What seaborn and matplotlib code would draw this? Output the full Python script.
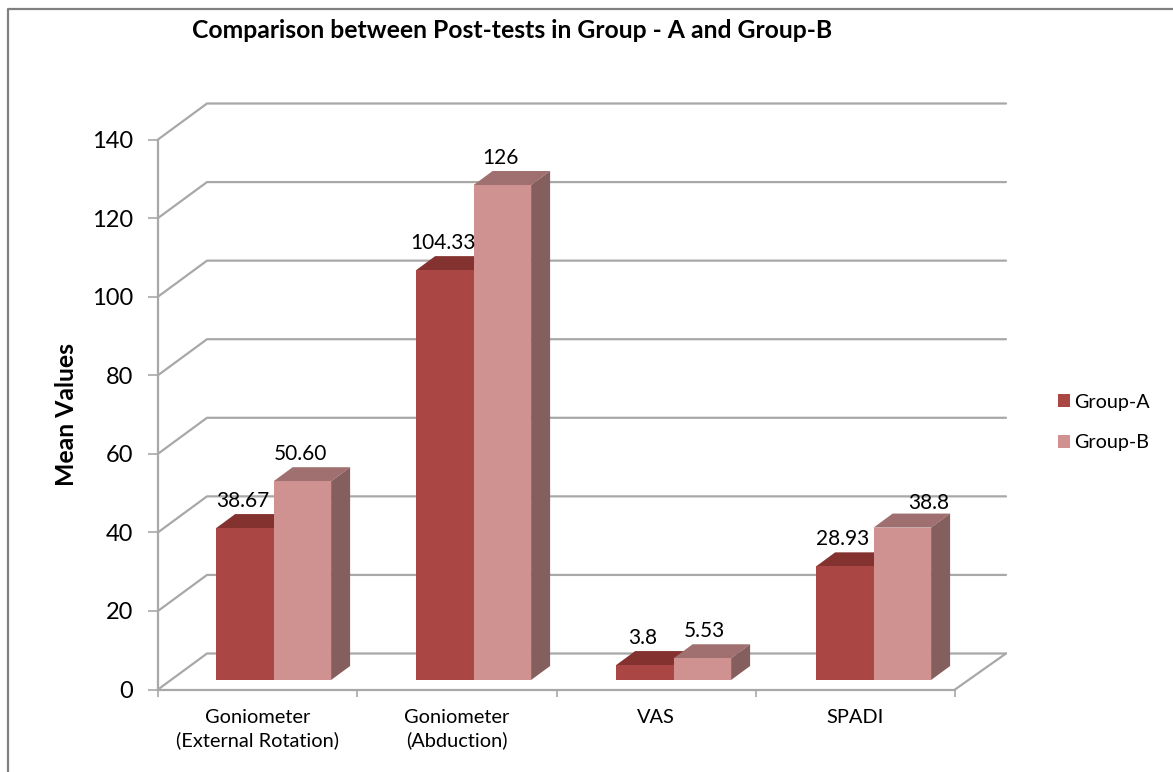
import numpy as np
import pandas as pd
import matplotlib
matplotlib.use("Agg")
import matplotlib.pyplot as plt
from matplotlib.lines import Line2D
from matplotlib.patches import Polygon
from matplotlib.transforms import Affine2D, IdentityTransform
import seaborn as sns

categories = ["Goniometer\n(External Rotation)", "Goniometer\n(Abduction)", "VAS", "SPADI"]
group_a = [38.67, 104.33, 3.8, 28.93]
group_b = [50.60, 126, 5.53, 38.8]
labels_a = ["38.67", "104.33", "3.8", "28.93"]
labels_b = ["50.60", "126", "5.53", "38.8"]
yticks = [0, 20, 40, 60, 80, 100, 120, 140]
title = "Comparison between Post-tests in Group - A and Group-B"

W, H = 1173, 772
sns.set_style("white")
plt.rcParams["font.family"] = ["Lato", "DejaVu Sans"]
plt.rcParams["text.color"] = "black"
plt.rcParams["xtick.labelcolor"] = "black"
plt.rcParams["ytick.labelcolor"] = "black"

fig = plt.figure(figsize=(W / 100, H / 100), dpi=100, facecolor="white")
L, R, T, B = 158, 955, 139.5, 689.5
ax = fig.add_axes([L / W, 1 - B / H, (R - L) / W, (B - T) / H])
ax.patch.set_alpha(0)

df = pd.DataFrame({
    "category": categories * 2,
    "value": group_a + group_b,
    "group": ["Group-A"] * 4 + ["Group-B"] * 4,
})
colors = {"Group-A": "#AA4643", "Group-B": "#D09290"}
tops = {"Group-A": "#843230", "Group-B": "#A06F6F"}
sides = {"Group-A": "#733030", "Group-B": "#855F5E"}
sns.barplot(data=df, x="category", y="value", hue="group", palette=colors,
            width=0.577, gap=0, saturation=1, errorbar=None, ax=ax, linewidth=0)
ax.set_xlim(-0.5, 3.5)
ax.set_ylim(0, 140)

# 3-D look: pixel offsets of the back wall and of the bar's front plane
GRID = "#A8A8A8"
WALL_DX, WALL_DY = 49, 36
BAR_DX, BAR_DY = 16, 9.5
BAR_DRIFT = 0.75  # extra px per category: the bar groups sit slightly wider than the ticks
DEPTH_DX, DEPTH_DY = 19, 14
px = IdentityTransform()

# label nudges in px, where the reference moved a label off its bar centre
nudge_b = {"5.53": (4, 0), "38.8": (28, -2)}

for v in yticks:
    x0, y0 = ax.transData.transform((-0.5, v))
    x1, y1 = ax.transData.transform((3.5, v))
    ax.add_artist(Line2D([x0, x0 + WALL_DX, x1 + WALL_DX + 2], [y0, y0 + WALL_DY, y1 + WALL_DY],
                         transform=px, color=GRID, lw=1.6, zorder=1, clip_on=False))
x1, y1 = ax.transData.transform((3.5, 0))
ax.add_artist(Line2D([x1, x1 + WALL_DX + 2], [y1, y1 + WALL_DY], transform=px,
                     color=GRID, lw=1.6, zorder=1, clip_on=False))

for cont, group, texts, z in zip(ax.containers, ["Group-A", "Group-B"], [labels_a, labels_b], [3, 4]):
    for i, (bar, text) in enumerate(zip(cont, texts)):
        (xa, ya), (xb, yb) = ax.transData.transform(
            [(bar.get_x(), 0), (bar.get_x() + bar.get_width(), bar.get_height())])
        dx = BAR_DX + BAR_DRIFT * i
        bar.set_transform(ax.transData + Affine2D().translate(dx, BAR_DY))
        bar.set_clip_on(False)
        bar.set_zorder(z + 0.1)
        xa += dx; xb += dx; ya += BAR_DY; yb += BAR_DY
        ax.add_patch(Polygon([(xa, yb), (xb, yb), (xb + DEPTH_DX, yb + DEPTH_DY), (xa + DEPTH_DX, yb + DEPTH_DY)],
                             closed=True, transform=px, facecolor=tops[group], edgecolor="none",
                             clip_on=False, zorder=z))
        ax.add_patch(Polygon([(xb, ya), (xb + DEPTH_DX, ya + DEPTH_DY), (xb + DEPTH_DX, yb + DEPTH_DY), (xb, yb)],
                             closed=True, transform=px, facecolor=sides[group], edgecolor="none",
                             clip_on=False, zorder=z))
        ox, oy = nudge_b.get(text, (0, 0)) if group == "Group-B" else (0, 0)
        ax.text((xa + xb) / 2 - 2 + ox, yb + 27 + oy, text, transform=px, ha="center", va="center",
                fontsize=15, color="black", zorder=6, clip_on=False)

# axes
sns.despine(ax=ax)
for s in ("left", "bottom"):
    ax.spines[s].set_color(GRID)
    ax.spines[s].set_linewidth(1.6)
    ax.spines[s].set_zorder(2)
ax.set_yticks(yticks)
ax.tick_params(axis="y", length=7, width=1.2, color=GRID, labelsize=17, pad=11, left=True)
ax.set_xticks(np.arange(-0.5, 4, 1), minor=True)
ax.tick_params(axis="x", which="minor", length=5, width=1.2, color=GRID, bottom=True)
ax.tick_params(axis="x", which="major", length=0, labelsize=14.4, pad=14)
for lab in ax.get_xticklabels():
    lab.set_linespacing(1.36)
ax.set_xlabel("")
ax.set_ylabel("")
fig.text(67 / W, 1 - 415 / H, "Mean Values", rotation=90, ha="center", va="center",
         fontsize=17.8, fontweight="bold")
fig.text(512 / W, 1 - 30 / H, title, ha="center", va="center", fontsize=17.8, fontweight="bold")

handles, hlabels = ax.get_legend_handles_labels()
ax.legend(handles, hlabels, loc="center left", bbox_to_anchor=(1058 / W, 1 - 422.5 / H),
          bbox_transform=fig.transFigure, frameon=False, fontsize=14.2,
          handlelength=0.62, handleheight=0.62, handletextpad=0.22, labelspacing=1.19,
          borderpad=0, borderaxespad=0)

# outer frame, cut by the picture on the right and at the bottom
FRAME = "#808080"
fig.add_artist(Line2D([8 / W, 8 / W, 1], [0, 1 - 9 / H, 1 - 9 / H], transform=fig.transFigure,
                      color=FRAME, lw=1.6))

fig.savefig("out.png", dpi=100, facecolor="white")
